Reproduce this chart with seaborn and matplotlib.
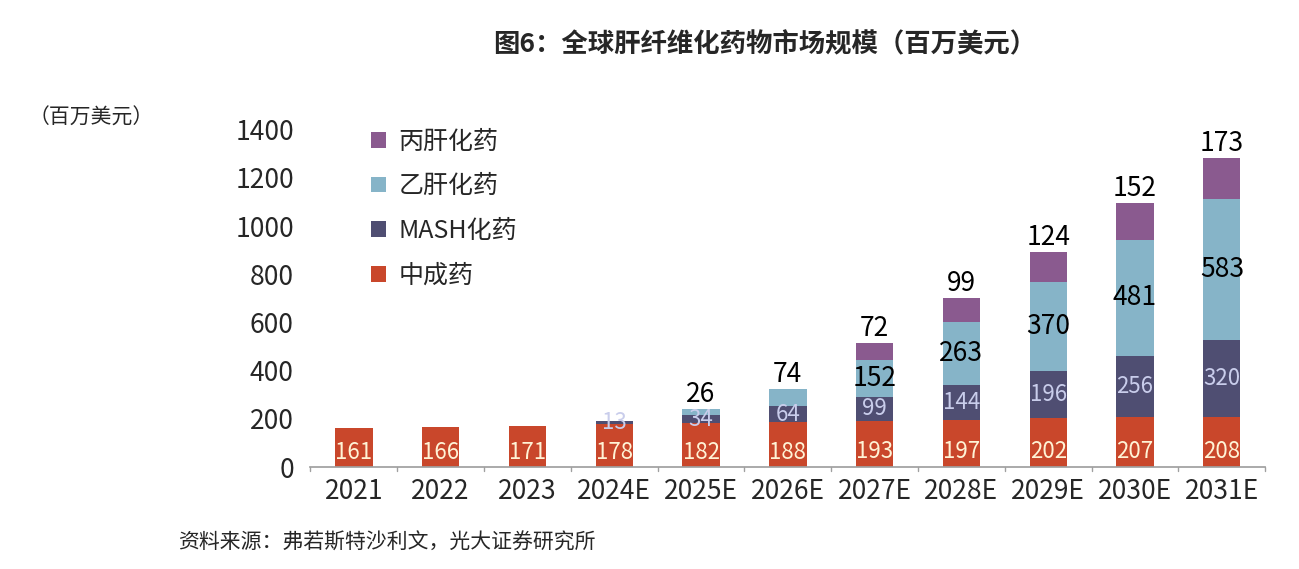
import matplotlib
matplotlib.use("Agg")
import matplotlib.pyplot as plt
import seaborn as sns
import pandas as pd
import numpy as np

sns.set_theme(style="white")
plt.rcParams['font.family'] = ['Noto Sans CJK SC', 'DejaVu Sans']

years = ["2021","2022","2023","2024E","2025E","2026E","2027E","2028E","2029E","2030E","2031E"]
tcm = [161,166,171,178,182,188,193,197,202,207,208]
mash = [0,0,0,13,34,64,99,144,196,256,320]
hbv = [0,0,0,0,26,74,152,263,370,481,583]
hcv = [0,0,0,0,0,0,72,99,124,152,173]

names = ["中成药","MASH化药","乙肝化药","丙肝化药"]
colors = ["#C9472B","#4F4E72","#86B4C8","#8A5A8F"]
series = [tcm, mash, hbv, hcv]

fig = plt.figure(figsize=(12.99,5.69), dpi=100)
ax = fig.add_axes([0.239,0.179,0.735,0.593])

bottom = np.zeros(len(years))
for name, vals, c in zip(names, series, colors):
    df = pd.DataFrame({"year": years, "v": vals})
    sns.barplot(data=df, x="year", y="v", bottom=bottom, color=c, width=0.43,
                ax=ax, label=name, saturation=1, linewidth=0)
    bottom = bottom + np.array(vals)

b = np.zeros(len(years))
for k, vals in enumerate(series):
    for i, v in enumerate(vals):
        if v == 0:
            continue
        if k == 0:
            ax.text(i, b[i]+v*0.08, str(v), ha="center", va="bottom", color="#FFF3D6", fontsize=16)
        elif k == 1:
            ax.text(i, b[i]+v/2, str(v), ha="center", va="center", color="#C9CDEB", fontsize=16)
        elif k == 2:
            if v < 100:
                ax.text(i, b[i]+v+3, str(v), ha="center", va="bottom", color="black", fontsize=19)
            else:
                ax.text(i, b[i]+v/2, str(v), ha="center", va="center", color="black", fontsize=19)
        else:
            ax.text(i, b[i]+v+3, str(v), ha="center", va="bottom", color="black", fontsize=19)
    b = b + np.array(vals)

ax.set_ylim(0,1400)
ax.set_xlim(-0.5, len(years)-0.5)
ax.set_yticks(range(0,1401,200))
ax.tick_params(axis="both", labelsize=19, length=0)
ax.tick_params(axis="x", pad=8)
ax.tick_params(axis="y", pad=12)
ax.set_xlabel(""); ax.set_ylabel("")
for s in ["top","right","left"]:
    ax.spines[s].set_visible(False)
ax.spines["bottom"].set_color("#A0A0A0")
for i in range(len(years)+1):
    ax.plot([i-0.5,i-0.5],[0,-18], color="#A0A0A0", lw=1, clip_on=False)

h, l = ax.get_legend_handles_labels()
ax.legend(h[::-1], l[::-1], loc="upper left", bbox_to_anchor=(0.04,1.07), frameon=False,
          fontsize=18, handlelength=0.6, handleheight=0.6, labelspacing=0.75, handletextpad=0.5)

fig.text(0.589, 0.921, "图6：全球肝纤维化药物市场规模（百万美元）", ha="center", va="center",
         fontsize=19, fontweight="bold")
fig.text(0.022, 0.793, "（百万美元）", ha="left", va="center", fontsize=15)
fig.text(0.137, 0.046, "资料来源：弗若斯特沙利文，光大证券研究所", ha="left", va="center", fontsize=15)

fig.savefig("out.png", dpi=100)
